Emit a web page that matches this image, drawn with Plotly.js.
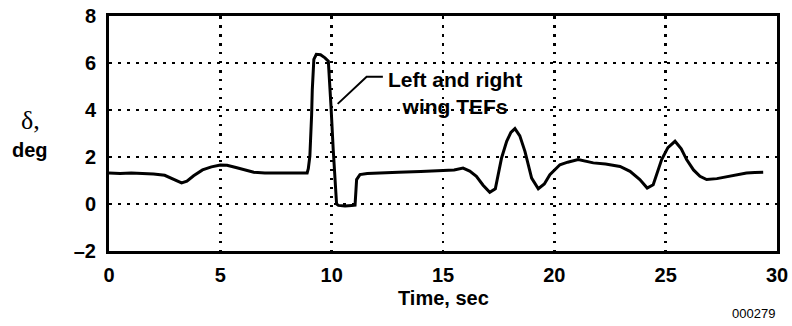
<!DOCTYPE html>
<html>
<head>
<meta charset="utf-8">
<script src="https://cdn.plot.ly/plotly-3.0.1.min.js"></script>
<style>
  html, body { margin: 0; padding: 0; background: #fff; }
  #chart { width: 792px; height: 326px; }
</style>
</head>
<body>
<div id="chart"></div>
<script>
// Trailing-edge flap deflection history
const timeSec = [
  0, 0.5, 1.0, 1.5, 2.0, 2.5, 2.8, 3.0, 3.26, 3.5, 3.8, 4.2, 4.6, 5.0, 5.3, 5.7, 6.1, 6.5,
  7.0, 8.0, 8.9, 8.95, 9.02, 9.1, 9.13, 9.2, 9.31, 9.5, 9.7, 9.85, 9.93, 9.97, 10.07, 10.22,
  10.3, 10.6, 10.9, 11.05, 11.12, 11.27, 11.6, 12, 13, 14, 14.86, 15.5, 15.9, 16.2, 16.5,
  16.8, 17.1, 17.35, 17.63, 17.86, 18.05, 18.23, 18.45, 18.68, 18.98, 19.28, 19.55, 19.8,
  20.25, 20.6, 21.07, 21.4, 21.75, 22.3, 22.95, 23.4, 23.84, 24.17, 24.44, 24.82, 25.1,
  25.42, 25.7, 25.94, 26.25, 26.54, 26.84, 27.3, 27.74, 28.2, 28.63, 29.0, 29.38
];
const deflectionDeg = [
  1.32, 1.30, 1.32, 1.30, 1.28, 1.22, 1.10, 1.00, 0.90, 0.97, 1.20, 1.45, 1.58, 1.66, 1.65, 1.55, 1.45, 1.35,
  1.32, 1.32, 1.32, 1.50, 2.03, 3.80, 4.87, 6.15, 6.37, 6.35, 6.22, 6.08, 5.00, 4.16, 2.31, 0.00,
  -0.06, -0.08, -0.06, -0.05, 1.04, 1.25, 1.30, 1.32, 1.35, 1.38, 1.43, 1.45, 1.53, 1.40, 1.18,
  0.80, 0.50, 0.65, 1.96, 2.67, 3.05, 3.21, 2.90, 2.24, 1.10, 0.65, 0.85, 1.25,
  1.67, 1.78, 1.89, 1.82, 1.75, 1.70, 1.60, 1.39, 1.04, 0.68, 0.82, 1.89, 2.40,
  2.67, 2.35, 1.89, 1.45, 1.18, 1.04, 1.08, 1.15, 1.25, 1.32, 1.34, 1.35
];

const xTickVals = [0, 5, 10, 15, 20, 25, 30];
const xTickText = ['0', '5', '10', '15', '20', '25', '30'];
const yTickVals = [-2, 0, 2, 4, 6, 8];
const yTickText = ['\u20132', '0', '2', '4', '6', '8'];

// Callout: label and its elbow leader line (data units)
const calloutText = 'Left and right<br>wing TEFs';
const calloutAt = { x: 15.55, y: 4.72 };
const leaderX = [10.27, 11.57, 12.3];
const leaderY = [4.26, 5.41, 5.41];

const sans = 'Liberation Sans, Arial, Helvetica, sans-serif';
const serif = 'Liberation Serif, Times New Roman, serif';

const trace = {
  x: timeSec,
  y: deflectionDeg,
  type: 'scatter',
  mode: 'lines',
  line: { color: '#000', width: 3 },
  hoverinfo: 'skip'
};

const gridCommon = {
  showgrid: true,
  gridcolor: '#000',
  gridwidth: 2.5,
  griddash: '2.5px,6.5px',
  zeroline: false,
  showline: true,
  linecolor: '#000',
  linewidth: 3,
  mirror: true,
  ticks: '',
  tickfont: { family: sans, size: 20, color: '#000', weight: 'bold' },
  fixedrange: true
};

const layout = {
  width: 792,
  height: 326,
  margin: { l: 109, r: 15, t: 16, b: 75 },
  paper_bgcolor: '#fff',
  plot_bgcolor: '#fff',
  showlegend: false,
  xaxis: Object.assign({}, gridCommon, {
    range: [0, 30],
    tickmode: 'array',
    tickvals: xTickVals,
    ticktext: xTickText,
    ticklabelstandoff: 4
  }),
  yaxis: Object.assign({}, gridCommon, {
    range: [-2, 8],
    tickmode: 'array',
    tickvals: yTickVals,
    ticktext: yTickText,
    ticklabelstandoff: 6
  }),
  shapes: [{
    type: 'path',
    xref: 'x', yref: 'y',
    path: 'M' + leaderX[0] + ',' + leaderY[0] + ' L' + leaderX[1] + ',' + leaderY[1] + ' L' + leaderX[2] + ',' + leaderY[2],
    line: { color: '#000', width: 2 }
  }],
  annotations: [
    {
      xref: 'x', yref: 'y', x: calloutAt.x, y: calloutAt.y,
      text: calloutText, showarrow: false, align: 'center',
      font: { family: sans, size: 21, color: '#000', weight: 'bold' }
    },
    {
      xref: 'paper', yref: 'paper', x: 0.5, y: -0.2, yanchor: 'middle',
      text: 'Time, sec', showarrow: false,
      font: { family: sans, size: 20, color: '#000', weight: 'bold' }
    },
    {
      xref: 'paper', yref: 'paper', x: -0.117, y: 0.557, xanchor: 'center', yanchor: 'middle',
      text: '\u03B4,', showarrow: false,
      font: { family: serif, size: 26, color: '#000' }
    },
    {
      xref: 'paper', yref: 'paper', x: -0.119, y: 0.43, xanchor: 'center', yanchor: 'middle',
      text: 'deg', showarrow: false,
      font: { family: sans, size: 20, color: '#000', weight: 'bold' }
    },
    {
      xref: 'paper', yref: 'paper', x: 1.0, y: -0.264, xanchor: 'right', yanchor: 'middle',
      text: '000279', showarrow: false,
      font: { family: sans, size: 13, color: '#000' }
    }
  ]
};

Plotly.newPlot('chart', [trace], layout, { displayModeBar: false, staticPlot: true });
</script>
</body>
</html>
